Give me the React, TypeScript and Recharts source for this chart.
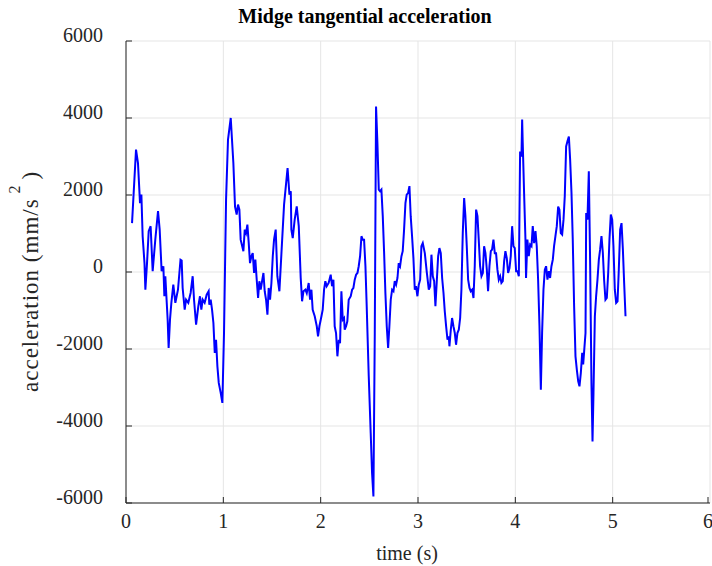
import { LineChart, Line, XAxis, YAxis, CartesianGrid } from "recharts";

// time (s) and tangential acceleration (mm/s^2)
const time = [
  0.062, 0.103, 0.123, 0.144, 0.158, 0.171, 0.19, 0.199, 0.216, 0.233, 0.253, 0.274, 0.301, 0.329, 0.346,
  0.366, 0.384, 0.394, 0.404, 0.428, 0.438, 0.452, 0.466, 0.486, 0.507, 0.534, 0.56, 0.572, 0.582, 0.603,
  0.617, 0.64, 0.664, 0.685, 0.699, 0.72, 0.743, 0.76, 0.774, 0.788, 0.808, 0.829, 0.849, 0.856, 0.87,
  0.884, 0.898, 0.912, 0.925, 0.939, 0.953, 0.973, 0.99, 1.007, 1.028, 1.048, 1.076, 1.103, 1.12, 1.137,
  1.151, 1.165, 1.178, 1.206, 1.22, 1.233, 1.247, 1.261, 1.274, 1.288, 1.302, 1.316, 1.329, 1.343, 1.357,
  1.37, 1.384, 1.398, 1.412, 1.425, 1.439, 1.453, 1.466, 1.48, 1.494, 1.508, 1.521, 1.538, 1.555, 1.576,
  1.597, 1.624, 1.66, 1.679, 1.693, 1.699, 1.713, 1.733, 1.754, 1.775, 1.795, 1.809, 1.823, 1.843, 1.857,
  1.877, 1.891, 1.905, 1.918, 1.939, 1.96, 1.973, 1.987, 2.008, 2.021, 2.035, 2.048, 2.062, 2.082, 2.103,
  2.117, 2.131, 2.144, 2.158, 2.172, 2.186, 2.199, 2.213, 2.227, 2.24, 2.247, 2.261, 2.274, 2.288, 2.309,
  2.323, 2.336, 2.35, 2.364, 2.378, 2.391, 2.405, 2.419, 2.432, 2.446, 2.46, 2.473, 2.494, 2.514, 2.528,
  2.542, 2.556, 2.569, 2.583, 2.597, 2.61, 2.624, 2.638, 2.652, 2.665, 2.679, 2.693, 2.706, 2.72, 2.734,
  2.748, 2.761, 2.775, 2.789, 2.802, 2.816, 2.83, 2.843, 2.857, 2.871, 2.884, 2.898, 2.912, 2.925, 2.939,
  2.953, 2.967, 2.98, 2.994, 3.008, 3.022, 3.035, 3.049, 3.07, 3.091, 3.111, 3.125, 3.138, 3.152, 3.166,
  3.179, 3.193, 3.207, 3.22, 3.234, 3.248, 3.262, 3.275, 3.289, 3.303, 3.316, 3.323, 3.337, 3.35, 3.364,
  3.378, 3.391, 3.405, 3.419, 3.433, 3.446, 3.46, 3.474, 3.487, 3.501, 3.515, 3.529, 3.542, 3.556, 3.57,
  3.583, 3.597, 3.611, 3.624, 3.638, 3.652, 3.666, 3.679, 3.693, 3.707, 3.72, 3.734, 3.748, 3.761, 3.775,
  3.789, 3.802, 3.816, 3.83, 3.844, 3.857, 3.871, 3.885, 3.898, 3.912, 3.926, 3.94, 3.953, 3.967, 3.981,
  3.994, 4.008, 4.022, 4.036, 4.049, 4.063, 4.07, 4.076, 4.09, 4.104, 4.11, 4.124, 4.138, 4.152, 4.166,
  4.179, 4.193, 4.207, 4.22, 4.234, 4.248, 4.262, 4.275, 4.289, 4.303, 4.316, 4.33, 4.344, 4.357, 4.371,
  4.385, 4.398, 4.412, 4.426, 4.44, 4.453, 4.467, 4.481, 4.495, 4.508, 4.522, 4.536, 4.55, 4.563, 4.577,
  4.59, 4.604, 4.618, 4.632, 4.646, 4.659, 4.673, 4.687, 4.697, 4.707, 4.721, 4.728, 4.741, 4.755, 4.769,
  4.782, 4.793, 4.803, 4.817, 4.83, 4.844, 4.858, 4.871, 4.885, 4.899, 4.912, 4.926, 4.94, 4.954, 4.967,
  4.981, 4.995, 5.008, 5.022, 5.036, 5.05, 5.063, 5.077, 5.091, 5.105, 5.118, 5.132,
];

const accel = [
  1270, 3180, 2830, 1790, 2010, 930, 230, -460, 230, 1060, 1190, 20, 840, 1580, 1100,
  20, 150, -630, -110, -1240, -1970, -1240, -800, -330, -800, -460, 320, 300, -415, -980,
  -720, -800, -545, -110, -720, -1370, -890, -630, -980, -720, -800, -590, -500, -850, -720,
  -980, -1325, -2100, -1760, -2450, -2880, -3140, -3400, -1585, 1880, 3440, 4000, 2830, 1700, 1490,
  1750, 1620, 840, 540, 1100, 1010, 1230, 750, 230, 410, 490, -25, 320, -200, -675,
  -240, -460, -240, -25, -500, -720, -1110, -415, -720, -285, 410, 840, 1100, -110, -500,
  490, 1750, 2700, 2010, 2100, 1100, 880, 1360, 1705, 1190, -155, -760, -500, -460, -550,
  -285, -720, -460, -980, -1150, -1410, -1670, -1410, -1150, -980, -460, -240, -370, -285, -70,
  -370, -200, -1410, -1585, -2190, -1760, -1850, -500, -1240, -1195, -1500, -1410, -1280, -720, -630,
  -460, -415, -200, -70, -25, 150, 410, 930, 840, 840, 150, -890, -2710, -4180, -5220,
  -5830, -1585, 4300, 3350, 2140, 2100, 2140, 1450, 490, -545, -1410, -1975, -1410, -720, -460,
  -500, -240, -330, -155, 230, 150, 410, 540, 1100, 1790, 2010, 2050, 2230, 1450, 930,
  360, -460, -370, -630, -330, -200, 670, 750, 490, -25, -460, -370, 450, -110, -240,
  -890, -240, 410, 620, 490, -155, -545, -1020, -1410, -1760, -1670, -1930, -1500, -1195, -1410,
  -1585, -1890, -1585, -1500, -1195, -460, 1010, 1920, 1450, 670, -200, -415, -500, -460, -675,
  150, 1620, 1450, 840, 150, -110, -25, 670, 490, 60, -500, 150, 540, 580, 840,
  490, 490, 60, -200, -110, -285, -240, 280, 540, 360, -25, 100, 410, 1190, 670,
  620, 20, 20, -110, 3130, 3000, 3960, 3350, 2050, 840, -155, 840, 410, 710, 670,
  1190, 750, 1060, 670, -200, -1410, -3060, -1585, -460, 60, 150, -200, 20, -155, 150,
  320, 670, 930, 1190, 1700, 1620, 1010, 970, 1360, 1970, 3260, 3400, 3520, 2920, 2050,
  840, -890, -2190, -2540, -2840, -2970, -2620, -2100, -2400, -2060, -1585, 1530, 1360, 2615, 150,
  -2880, -4400, -3140, -1150, -630, -200, 320, 580, 930, 500, -200, -720, -675, -25, 840,
  1490, 1360, 670, -460, -800, -760, 60, 1100, 1270, 580, -285, -1150,
];

const xTicks = [0, 1, 2, 3, 4, 5, 6];
const yTicks = [-6000, -4000, -2000, 0, 2000, 4000, 6000];

const data = time.map((t, i) => ({ t, a: accel[i] }));

const FONT = "'Liberation Serif', 'Times New Roman', serif";
const AXIS = "#262626";
const GRID = "#e5e5e5";

const BottomTick = (props: any) => {
  const { x, y, payload } = props;
  return (
    <g>
      <line x1={x} x2={x} y1={y} y2={y - 6} stroke={AXIS} />
      <text x={x} y={y + 25} textAnchor="middle" fontFamily={FONT} fontSize={20} fill={AXIS}>
        {payload.value}
      </text>
    </g>
  );
};

const TopTick = (props: any) => {
  const { x, y } = props;
  return <line x1={x} x2={x} y1={y} y2={y + 6} stroke={AXIS} />;
};

const LeftTick = (props: any) => {
  const { x, y, payload } = props;
  return (
    <g>
      <line x1={x} x2={x + 6} y1={y} y2={y} stroke={AXIS} />
      <text x={x - 23} y={y + 1} textAnchor="end" fontFamily={FONT} fontSize={20} fill={AXIS}>
        {payload.value}
      </text>
    </g>
  );
};

const RightTick = (props: any) => {
  const { x, y } = props;
  return <line x1={x} x2={x - 6} y1={y} y2={y} stroke={AXIS} />;
};

export default function App() {
  return (
    <div style={{ position: "absolute", left: 0, top: 0, width: 712, height: 566, background: "#fff" }}>
      <LineChart width={712} height={566} data={data} margin={{ top: 41, right: 2, bottom: 33, left: 66 }}>
        <CartesianGrid stroke={GRID} xAxisId="b" yAxisId="l" />
        <XAxis
          xAxisId="b"
          dataKey="t"
          type="number"
          domain={[0, 6]}
          ticks={xTicks}
          height={30}
          tickSize={0}
          tickMargin={0}
          tickLine={false}
          axisLine={{ stroke: AXIS }}
          tick={<BottomTick />}
        />
        <XAxis
          xAxisId="top"
          orientation="top"
          dataKey="t"
          type="number"
          domain={[0, 6]}
          ticks={xTicks}
          height={0}
          tickSize={0}
          tickMargin={0}
          tickLine={false}
          axisLine={{ stroke: AXIS }}
          tick={<TopTick />}
        />
        <YAxis
          yAxisId="l"
          type="number"
          domain={[-6000, 6000]}
          ticks={yTicks}
          width={60}
          tickSize={0}
          tickMargin={0}
          tickLine={false}
          axisLine={{ stroke: AXIS }}
          tick={<LeftTick />}
        />
        <YAxis
          yAxisId="r"
          orientation="right"
          type="number"
          domain={[-6000, 6000]}
          ticks={yTicks}
          width={0}
          tickSize={0}
          tickMargin={0}
          tickLine={false}
          axisLine={{ stroke: AXIS }}
          tick={<RightTick />}
        />
        <Line
          xAxisId="b"
          yAxisId="l"
          type="linear"
          dataKey="a"
          stroke="#0000ff"
          strokeWidth={2}
          dot={false}
          isAnimationActive={false}
        />
      </LineChart>
      <svg
        width={712}
        height={566}
        style={{ position: "absolute", left: 0, top: 0, pointerEvents: "none" }}
      >
        <text x={365} y={23} textAnchor="middle" fontFamily={FONT} fontWeight="bold" fontSize={20} fill="#000">
          Midge tangential acceleration
        </text>
        <text x={407} y={560} textAnchor="middle" fontFamily={FONT} fontSize={20} fill={AXIS}>
          time (s)
        </text>
        <text
          transform="translate(38,392) rotate(-90)"
          textAnchor="start"
          fontFamily={FONT}
          fontSize={23}
          letterSpacing={1}
          fill={AXIS}
        >
          acceleration (mm/s
          <tspan dx={5} dy={-18} fontSize={16}>2</tspan>
          <tspan dx={5} dy={18}>)</tspan>
        </text>
      </svg>
    </div>
  );
}
